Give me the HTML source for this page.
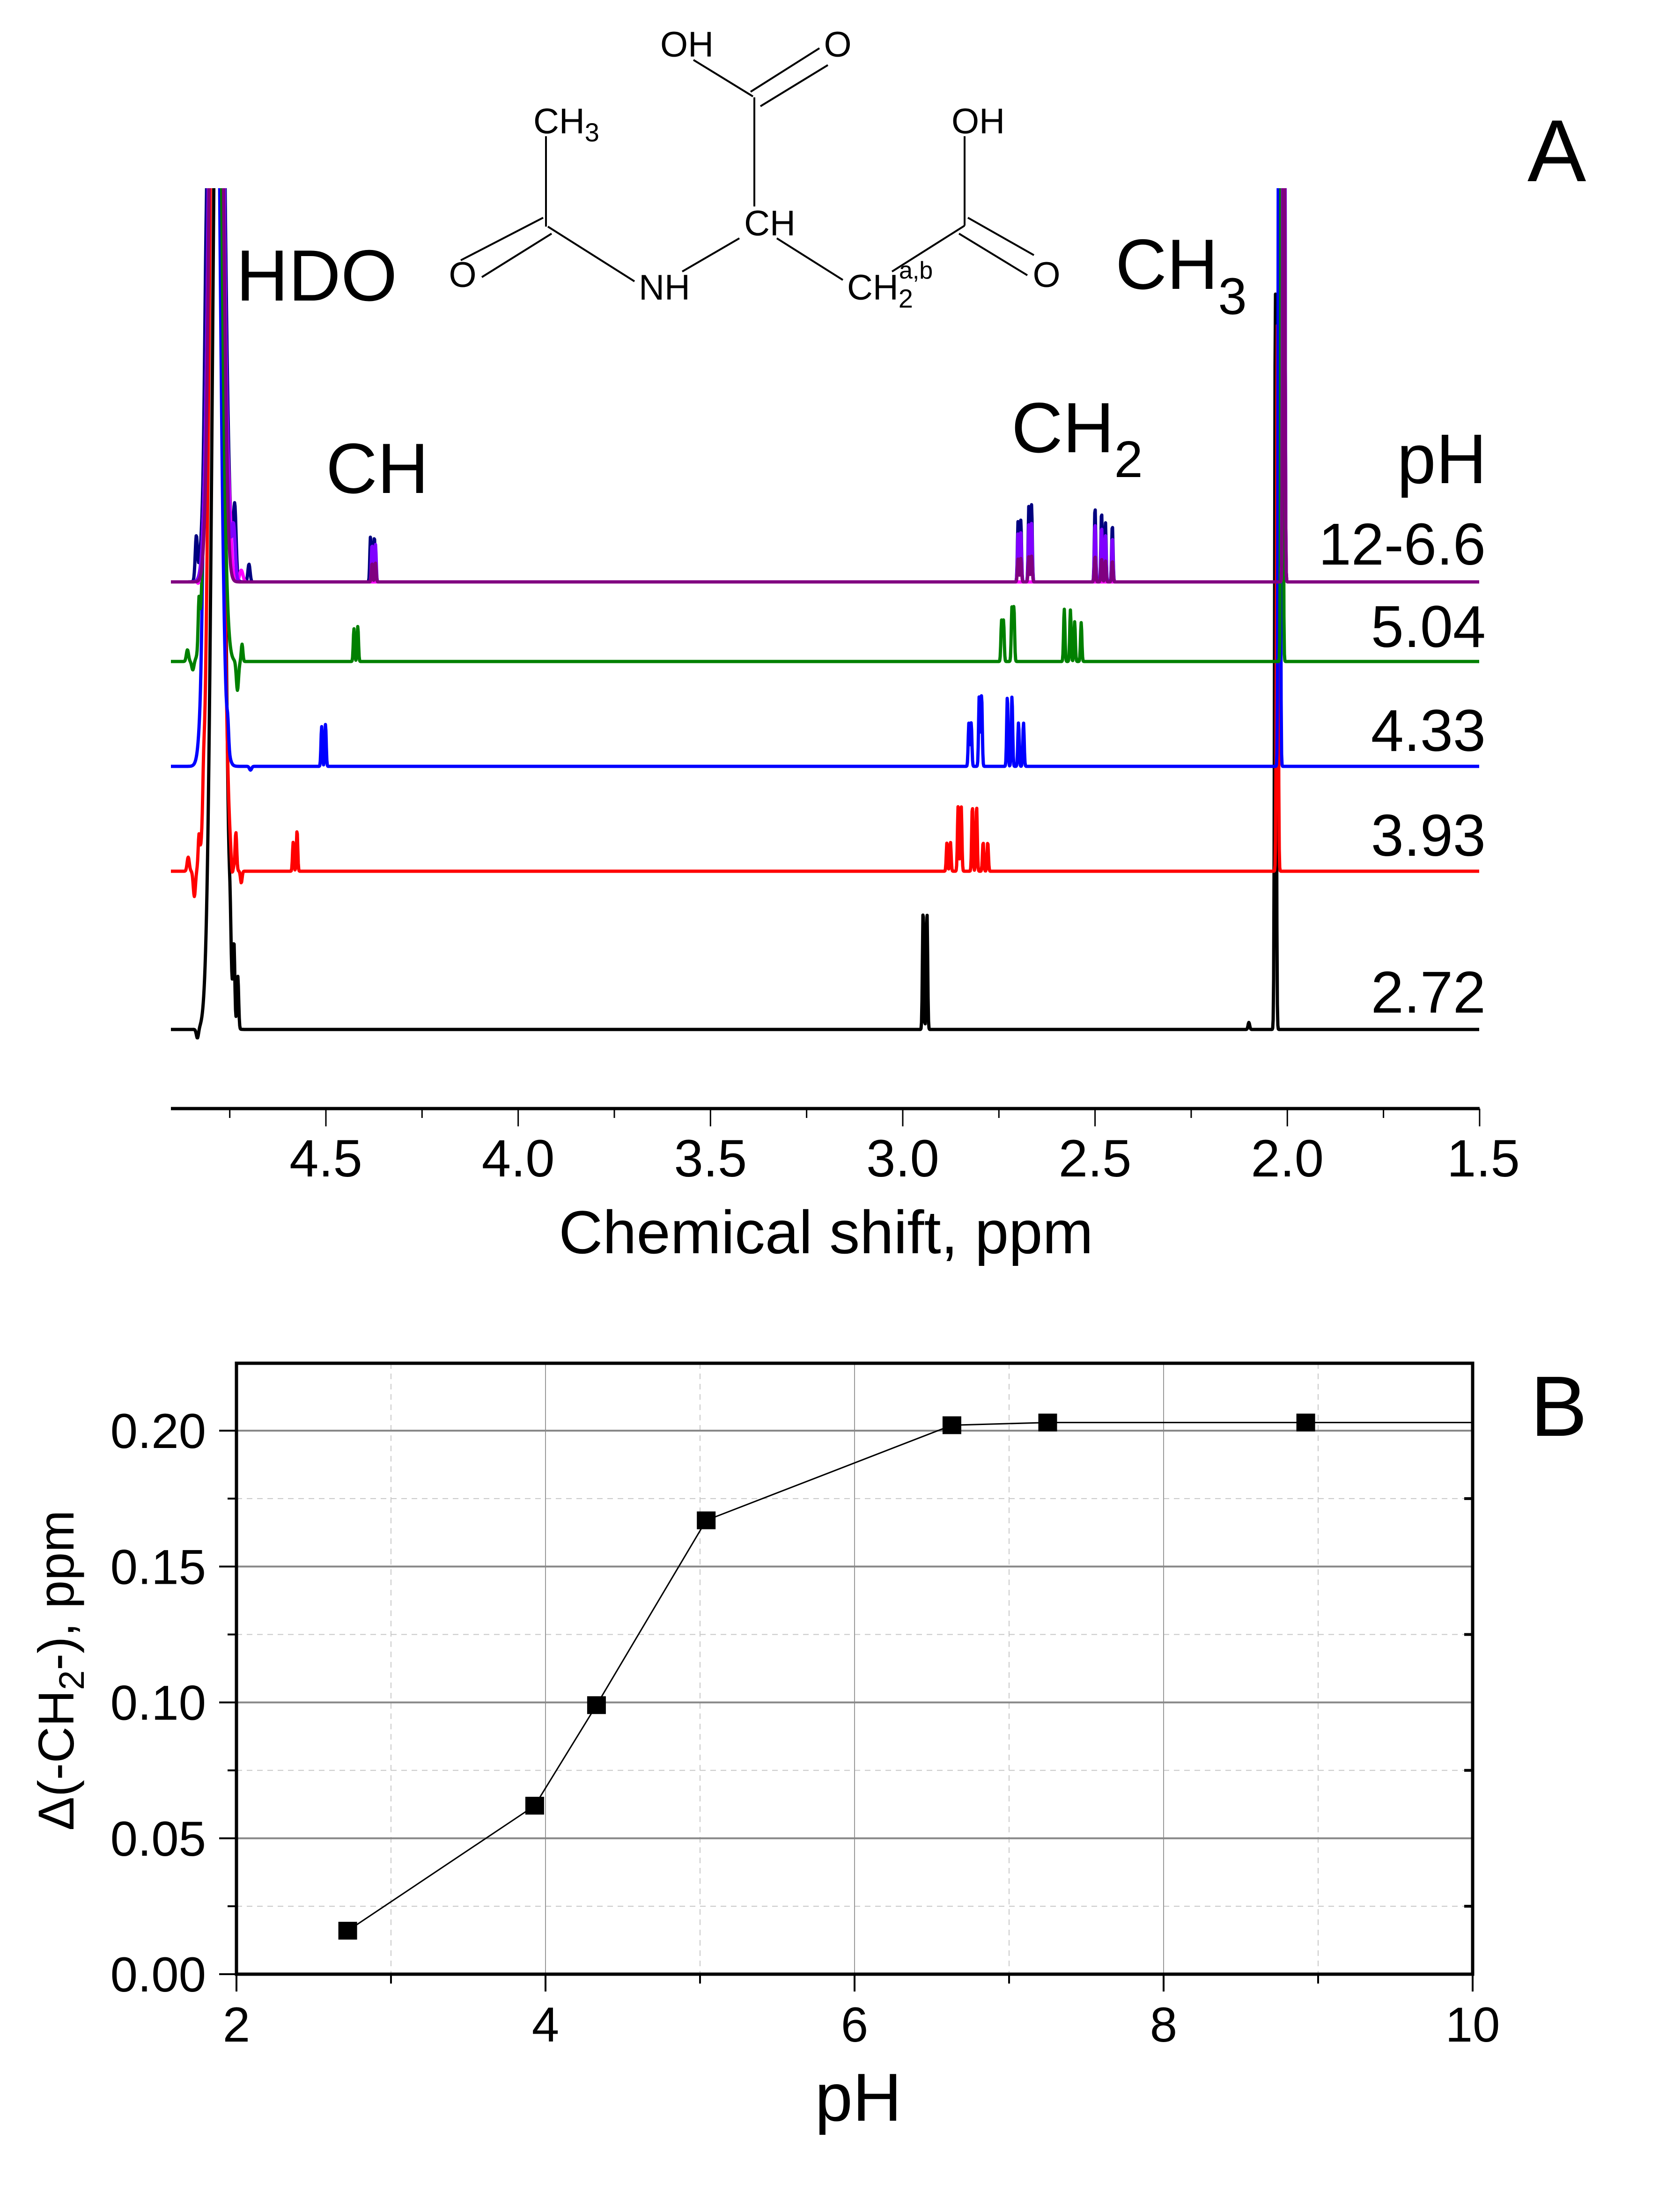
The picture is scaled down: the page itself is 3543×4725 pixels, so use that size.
<!DOCTYPE html>
<html><head><meta charset="utf-8"><style>
html,body{margin:0;padding:0;background:#fff}
svg{display:block;font-family:"Liberation Sans",Arial,sans-serif}
</style></head><body>
<svg id="fig" width="3543" height="4725" viewBox="0 0 3543 4725" xmlns="http://www.w3.org/2000/svg">
<rect width="3543" height="4725" fill="#fff"/>
<defs><clipPath id="clipA"><rect x="340" y="402" width="2840" height="1900"/></clipPath></defs>

<g id="molecule" stroke="#000" stroke-width="4" fill="none">
<line x1="1481" y1="128" x2="1608" y2="206"/>
<line x1="1611" y1="208" x2="1611" y2="441"/>
<line x1="1603" y1="196" x2="1750" y2="103"/>
<line x1="1624" y1="227" x2="1768" y2="139"/>
<line x1="1166" y1="291" x2="1166" y2="484"/>
<line x1="1160" y1="465" x2="984" y2="556"/>
<line x1="1178" y1="499" x2="1029" y2="592"/>
<line x1="1170" y1="484" x2="1355" y2="601"/>
<line x1="1457" y1="580" x2="1579" y2="509"/>
<line x1="1659" y1="509" x2="1800" y2="598"/>
<line x1="1905" y1="580" x2="2060" y2="482"/>
<line x1="2060" y1="482" x2="2060" y2="291"/>
<line x1="2067" y1="465" x2="2208" y2="545"/>
<line x1="2048" y1="499" x2="2194" y2="588"/>
</g>
<g font-size="76" fill="#000">
<text x="1467" y="121" text-anchor="middle">OH</text>
<text x="1789" y="121" text-anchor="middle">O</text>
<text x="1139" y="285">CH<tspan font-size="56" dy="17">3</tspan></text>
<text x="2089" y="285" text-anchor="middle">OH</text>
<text x="1644" y="503" text-anchor="middle">CH</text>
<text x="988" y="613" text-anchor="middle">O</text>
<text x="1419" y="640" text-anchor="middle">NH</text>
<text x="1809" y="640">CH<tspan font-size="56" dy="17">2</tspan><tspan font-size="52" dx="-30" dy="-62">a,b</tspan></text>
<text x="2235" y="613" text-anchor="middle">O</text>
</g>

<g id="spectra" clip-path="url(#clipA)"></g>

<g fill="#000">
<text x="3262" y="387" font-size="188">A</text>
<text x="504" y="642" font-size="155">HDO</text>
<text x="696" y="1053" font-size="152">CH</text>
<text x="2160" y="966" font-size="152">CH<tspan font-size="110" dy="53">2</tspan></text>
<text x="2382" y="617" font-size="152">CH<tspan font-size="110" dy="54">3</tspan></text>
<text x="3175" y="1032" font-size="150" text-anchor="end">pH</text>
</g>
<g id="phlabels" font-size="126" text-anchor="end" fill="#000"></g>

<g id="axisA"></g>
<text x="1764" y="2677" font-size="130" text-anchor="middle">Chemical shift, ppm</text>

<g id="panelB"></g>
<text x="3268" y="3067" font-size="183">B</text>
<text x="1833" y="4530" font-size="145" text-anchor="middle">pH</text>
<text transform="translate(157,3568) rotate(-90)" font-size="108" text-anchor="middle">Δ(-CH<tspan font-size="76" dy="22">2</tspan><tspan dy="-22">-), ppm</tspan></text>
</svg>
<script>
// ---------- Panel A data (ppm, height px, width ppm) ----------
const spectrumColors = ['#000000','#ff0000','#0000ff','#008000','#000080','#ff00ff','#8000ff','#800080'];
const spectrumLabels = ['2.72','3.93','4.33','5.04','12-6.6'];
const blackPeaks = [[4.78,2500,0.02],[4.749,70,0.003],[4.739,150,0.003],[4.729,110,0.003],[4.834,-20,0.004],[2.947,257,0.0025],[2.937,250,0.0025],[2.031,1586,0.0028],[2.10,15,0.003]];
const redPeaks = [[4.786,2500,0.02],[4.858,30,0.004],[4.842,-55,0.004],[4.83,60,0.003],[4.818,60,0.003],[4.764,70,0.003],[4.744,-30,0.003],[4.734,80,0.003],[4.72,-25,0.003],[4.585,62,0.0025],[4.575,87,0.0025],
 [2.885,62,0.0025],[2.876,62,0.0025],[2.856,139,0.0025],[2.848,139,0.0025],[2.819,139,0.0025],[2.808,139,0.0025],[2.791,62,0.0025],[2.779,62,0.0025],[2.026,1169,0.0028]];
const bluePeaks = [[4.793,2500,0.02],[4.82,56,0.004],[4.755,40,0.003],[4.696,-8,0.004],[4.511,85,0.0025],[4.501,90,0.0025],
 [2.828,93,0.0025],[2.822,93,0.0025],[2.801,153,0.0025],[2.795,153,0.0025],[2.728,149,0.0025],[2.716,149,0.0025],[2.699,93,0.0025],[2.686,93,0.0025],[2.021,3000,0.0028]];
const greenPeaks = [[4.79,2500,0.02],[4.86,25,0.004],[4.846,-19,0.004],[4.83,93,0.003],[4.81,93,0.003],[4.73,-62,0.004],[4.718,37,0.003],[4.427,70,0.0025],[4.417,75,0.0025],
 [2.743,87,0.0025],[2.738,87,0.0025],[2.716,116,0.0025],[2.711,116,0.0025],[2.58,112,0.0025],[2.564,110,0.0025],[2.553,85,0.0025],[2.536,83,0.0025],[2.014,3000,0.0028]];
const navyPeaks = [[4.785,2500,0.022],[4.837,90,0.004],[4.812,190,0.005],[4.737,147,0.005],[4.70,38,0.004],[4.384,97,0.0025],[4.374,97,0.0025],
 [2.700,132,0.0025],[2.693,132,0.0025],[2.672,165,0.0025],[2.665,165,0.0025],[2.500,160,0.0025],[2.483,150,0.0025],[2.473,128,0.0025],[2.455,122,0.0025],[2.009,3000,0.0028]];
const magentaPeaks = [[4.785,2500,0.02],[4.75,60,0.006],[4.72,25,0.006],[4.83,-15,0.005],[2.009,3000,0.0028]];
const violetPeaks = [[4.785,2500,0.02],[4.80,60,0.006],[4.74,110,0.006],[4.38,80,0.0025],[4.371,80,0.0025],
 [2.700,105,0.0025],[2.693,105,0.0025],[2.672,125,0.0025],[2.665,125,0.0025],[2.500,125,0.0025],[2.483,118,0.0025],[2.473,100,0.0025],[2.455,95,0.0025],[2.009,3000,0.0028]];
const purplePeaks = [[4.785,2500,0.018],[4.80,50,0.006],[4.76,40,0.006],[4.38,40,0.0025],[4.371,40,0.0025],
 [2.700,50,0.0025],[2.693,50,0.0025],[2.672,55,0.0025],[2.665,55,0.0025],[2.500,55,0.0025],[2.483,50,0.0025],[2.473,45,0.0025],[2.455,45,0.0025],[2.009,1500,0.003]];
const seriesBaselines = [2199,1861,1637,1413,1243,1243,1243,1243];
const axisTicksA = [4.5,4.0,3.5,3.0,2.5,2.0,1.5];
const axisTickLabelsA = ['4.5','4.0','3.5','3.0','2.5','2.0','1.5'];

// ---------- Panel B data ----------
const phValues = [2.72,3.93,4.33,5.04,6.63,7.25,8.92];
const deltaValues = [0.016,0.062,0.099,0.167,0.202,0.203,0.203];
const xTicksB = [2,4,6,8,10];
const xTickLabelsB = ['2','4','6','8','10'];
const yTicksB = [0,0.05,0.10,0.15,0.20];
const yTickLabelsB = ['0.00','0.05','0.10','0.15','0.20'];

const NS='http://www.w3.org/2000/svg';
function mk(tag,attrs,parent){const e=document.createElementNS(NS,tag);for(const k in attrs)e.setAttribute(k,attrs[k]);if(parent)parent.appendChild(e);return e;}

const ppmToX = p => 696 + (4.5 - p) * 821.3;
const ppmLeft = 4.903, ppmRight = 1.5;
const allPeaks = [blackPeaks,redPeaks,bluePeaks,greenPeaks,navyPeaks,magentaPeaks,violetPeaks,purplePeaks];
const spec = document.getElementById('spectra');
[0,1,2,3,4,5,6,7].forEach(i=>{
  const peaks = allPeaks[i], base = seriesBaselines[i];
  let d='';
  for(let x=ppmToX(ppmLeft); x<=ppmToX(ppmRight); x+=1){
    const p = 4.5 - (x-696)/821.3;
    let y=0;
    for(const pk of peaks){const t=(p-pk[0])/pk[2]; if(Math.abs(t)<6) y+=pk[1]*Math.exp(-t*t);}
    d += (d?'L':'M') + x.toFixed(1) + ' ' + (base - y).toFixed(1);
  }
  const path = mk('path',{d:d,fill:'none',stroke:spectrumColors[i],'stroke-width':7,'stroke-linejoin':'round'},spec);
  
  
});
const phl = document.getElementById('phlabels');
const labelY = [2163,1828,1604,1382,1206];
spectrumLabels.forEach((s,i)=>{
  const t = mk('text',{x:3173,y:labelY[i]},phl);
  t.textContent = s;
  
  
});
const axA = document.getElementById('axisA');
const axLine = mk('line',{x1:ppmToX(ppmLeft),y1:2368,x2:ppmToX(ppmRight),y2:2368,stroke:'#000','stroke-width':7},axA);


for(let k=0;k<7;k++){
  const p = 4.75 - k*0.5;
  const tk = mk('line',{x1:ppmToX(p),y1:2368,x2:ppmToX(p),y2:2388,stroke:'#000','stroke-width':3},axA);
  
  
}
axisTicksA.forEach((p,i)=>{
  const tk = mk('line',{x1:ppmToX(p),y1:2368,x2:ppmToX(p),y2:2406,stroke:'#000','stroke-width':3},axA);
  
  
  const t = mk('text',{x:ppmToX(p)+ (i==6?8:0),y:2513,'font-size':112,'text-anchor':'middle'},axA);
  t.textContent = axisTickLabelsA[i];
  
  
});

// Panel B
const bx = v => 505 + (v-2)*330;
const by = v => 4217 - v*5805;
const L=505,R=3145,T=2912,B=4217;
const pb = document.getElementById('panelB');
[3,5,7,9].forEach(v=>{const g=mk('line',{x1:bx(v),y1:T,x2:bx(v),y2:B,stroke:'#c8c8c8','stroke-width':2,'stroke-dasharray':'12 10'},pb);});
[0.025,0.075,0.125,0.175].forEach(v=>{const g=mk('line',{x1:L,y1:by(v),x2:R,y2:by(v),stroke:'#c8c8c8','stroke-width':2,'stroke-dasharray':'12 10'},pb);});
[4,6,8].forEach(v=>{const g=mk('line',{x1:bx(v),y1:T,x2:bx(v),y2:B,stroke:'#999','stroke-width':2},pb);});
[0.05,0.10,0.15,0.20].forEach(v=>{const g=mk('line',{x1:L,y1:by(v),x2:R,y2:by(v),stroke:'#888','stroke-width':4},pb);});
const frame = mk('rect',{x:L,y:T,width:R-L,height:B-T,fill:'none',stroke:'#000','stroke-width':7},pb);


[3,5,7,9].forEach(v=>{const t=mk('line',{x1:bx(v),y1:B,x2:bx(v),y2:B+20,stroke:'#000','stroke-width':4},pb);});
[0.025,0.075,0.125,0.175].forEach(v=>{const t=mk('line',{x1:L-19,y1:by(v),x2:L,y2:by(v),stroke:'#000','stroke-width':4},pb);
 const t2=mk('line',{x1:R-18,y1:by(v),x2:R,y2:by(v),stroke:'#000','stroke-width':6},pb);});
xTicksB.forEach((v,i)=>{
  const t=mk('line',{x1:bx(v),y1:B,x2:bx(v),y2:B+37,stroke:'#000','stroke-width':4},pb);
  
  
  const l=mk('text',{x:bx(v),y:4361,'font-size':105,'text-anchor':'middle'},pb);
  l.textContent=xTickLabelsB[i];
  
  
});
yTicksB.forEach((v,i)=>{
  const t=mk('line',{x1:L-37,y1:by(v),x2:L,y2:by(v),stroke:'#000','stroke-width':4},pb);
  
  
  const l=mk('text',{x:440,y:by(v)+37,'font-size':105,'text-anchor':'end'},pb);
  l.textContent=yTickLabelsB[i];
  
  
});
let d='';
phValues.forEach((v,i)=>{d+=(i?'L':'M')+bx(v)+' '+by(deltaValues[i]);});
d+='L'+R+' '+by(deltaValues[deltaValues.length-1]);
const ln=mk('path',{d:d,fill:'none',stroke:'#000','stroke-width':3},pb);


phValues.forEach((v,i)=>{
  const m=mk('rect',{x:bx(v)-20,y:by(deltaValues[i])-19,width:40,height:38,fill:'#000'},pb);
  
  
});
</script>
</body></html>
